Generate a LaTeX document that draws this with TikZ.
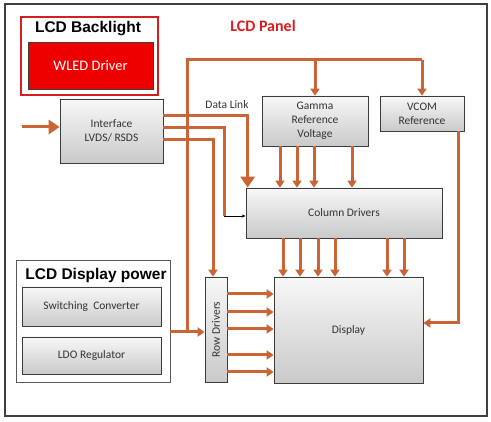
\documentclass[tikz,border=0pt]{standalone}
\usepackage{fontspec}
\setmainfont{Carlito}
\newfontfamily\hdfont{Liberation Sans}
\usetikzlibrary{arrows.meta}

\definecolor{wire}{RGB}{202,100,52}
\definecolor{boxline}{RGB}{60,60,60}
\definecolor{lcdred}{RGB}{215,30,30}
\definecolor{wledred}{RGB}{238,0,0}

\tikzset{
	blk/.style={draw=boxline, line width=0.7pt, top color=gray!6, bottom color=gray!42,
		inner sep=0pt, align=center, text=black!80, font=\fontsize{11.5}{14}\selectfont},
	grp/.style={draw=gray!70!black, line width=0.8pt, fill=white, inner sep=0pt},
	hd/.style={font=\hdfont\bfseries\fontsize{15.5}{17}\selectfont},
	lnk/.style={draw=wire, line width=3pt},
	arr/.style={lnk, -{Triangle[length=7pt,width=9pt]}},
	bigarr/.style={lnk, -{Triangle[length=11pt,width=14pt]}},
}

\begin{document}
\begin{tikzpicture}[x=1pt,y=-1pt]
	\useasboundingbox (0,0) rectangle (491,422);
	\draw[black!75, line width=1.6pt] (5,4) rectangle (487,416);

	% backlight
	\node[grp, draw=lcdred, line width=2pt, minimum width=137, minimum height=78] (backlight) at (89.5,56) {};
	\node[hd] (bltitle) at (88,29) {LCD Backlight};
	\node[draw=boxline, line width=0.8pt, fill=wledred, text=white, inner sep=0pt,
		minimum width=125, minimum height=47, font=\fontsize{14.5}{16}\selectfont] (wled) at (90.5,65.5) {WLED Driver};
	\node[text=lcdred, font=\bfseries\fontsize{16}{18}\selectfont] (paneltitle) at (263,26) {LCD Panel};

	% panel blocks
	\node[blk, minimum width=103, minimum height=64] (iface) at (111.5,131) {Interface\\LVDS/ RSDS};
	\node[blk, minimum width=106, minimum height=50] (gamma) at (315,121) {Gamma\\Reference\\Voltage};
	\node[blk, minimum width=84, minimum height=35] (vcom) at (422,113.5) {VCOM\\Reference};
	\node[blk, minimum width=196, minimum height=50] (coldrv) at (344,213) {Column Drivers};
	\node[blk, minimum width=149, minimum height=106] (disp) at (348.5,330) {Display};
	\node[blk, minimum width=22, minimum height=105,
		label={[rotate=90, text=black!80, font=\fontsize{11.5}{14}\selectfont]center:Row Drivers}] (rowdrv) at (216,329.5) {};

	% power
	\node[grp, minimum width=154, minimum height=122] (power) at (93,321) {};
	\node[hd] (pwtitle) at (96,275) {LCD Display power};
	\node[blk, minimum width=139, minimum height=39] (switch) at (91.5,306.5) {Switching\ \ Converter};
	\node[blk, minimum width=139, minimum height=37] (ldo) at (91.5,355.5) {LDO Regulator};

	% links
	\coordinate (in) at (22,127);
	\coordinate (busL) at (187,60);
	\coordinate (j) at (187,332);
	\coordinate (dl2) at (224,216);

	\draw[bigarr] (in) -- (in -| iface.west);
	\draw[lnk] (j) -- (busL) -- (vcom.north |- busL);
	\draw[arr] (gamma.north |- busL) -- (gamma.north);
	\draw[arr] (vcom.north |- busL) -- (vcom.north);
	\draw[arr] (power.east |- j) -- (rowdrv.west |- j);

	\draw[bigarr] (iface.east |- 0,116) -| ([xshift=2pt]coldrv.north west);
	\node[text=black!80, font=\fontsize{11.5}{14}\selectfont] (dlink) at (227,105) {Data Link};
	\draw[lnk] (iface.east |- 0,128) -| (dl2);
	\draw[-{Stealth[length=4pt]}, line width=0.6pt] (dl2) -- (coldrv.west |- dl2);
	\draw[arr] (iface.east |- 0,140) -| ([xshift=-3pt]rowdrv.north);

	\foreach \x in {280,297,314,352}
		\draw[arr] (\x,0 |- gamma.south) -- (\x,0 |- coldrv.north);
	\foreach \x in {283,300,318,335,387,404}
		\draw[arr] (\x,0 |- coldrv.south) -- (\x,0 |- disp.north);
	\foreach \y in {294,312,329,355,372}
		\draw[arr] (rowdrv.east |- 0,\y) -- (disp.west |- 0,\y);
	\draw[arr] (458,0 |- vcom.south) |- (disp.east |- 0,323);
\end{tikzpicture}
\end{document}
